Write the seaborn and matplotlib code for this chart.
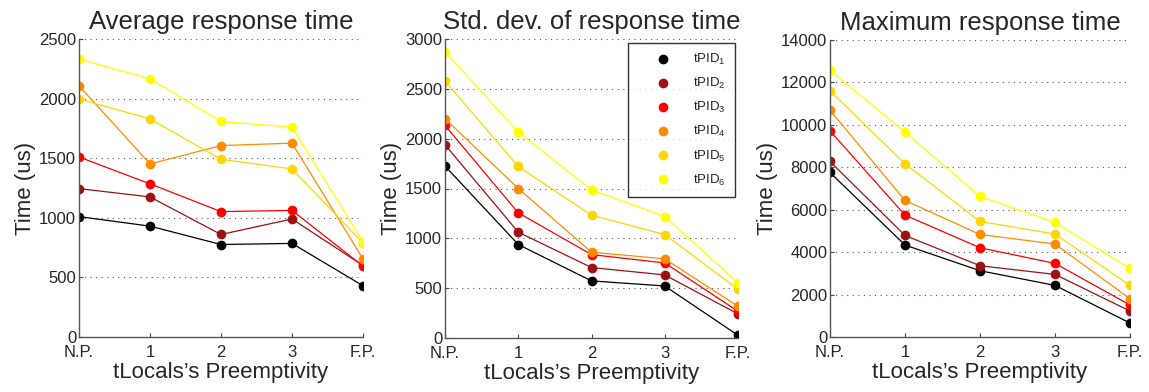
import numpy as np
import pandas as pd
import matplotlib
matplotlib.use("Agg")
import matplotlib.pyplot as plt
import seaborn as sns
from matplotlib.lines import Line2D
from matplotlib.legend_handler import HandlerLine2D

preempt = ["N.P.", "1", "2", "3", "F.P."]
series = ["tPID1", "tPID2", "tPID3", "tPID4", "tPID5", "tPID6"]
labels = [r"tPID$_1$", r"tPID$_2$", r"tPID$_3$", r"tPID$_4$", r"tPID$_5$", r"tPID$_6$"]
colors = ["#000000", "#9b1212", "#ff0000", "#ff8c00", "#ffd700", "#ffff00"]

avg_t1 = [1010, 930, 776, 785, 430]
avg_t2 = [1245, 1175, 860, 990, 600]
avg_t3 = [1510, 1285, 1052, 1062, 595]
avg_t4 = [2108, 1452, 1606, 1626, 656]
avg_t5 = [1996, 1830, 1491, 1410, 790]
avg_t6 = [2332, 2166, 1808, 1760, 800]

std_t1 = [1725, 938, 573, 522, 27]
std_t2 = [1939, 1062, 707, 633, 241]
std_t3 = [2133, 1256, 837, 753, 268]
std_t4 = [2200, 1500, 861, 794, 318]
std_t5 = [2579, 1721, 1232, 1038, 489]
std_t6 = [2873, 2066, 1487, 1219, 553]

max_t1 = [7755, 4333, 3124, 2433, 659]
max_t2 = [8273, 4788, 3359, 2951, 1224]
max_t3 = [9717, 5745, 4207, 3469, 1507]
max_t4 = [10690, 6436, 4835, 4380, 1805]
max_t5 = [11601, 8163, 5447, 4851, 2433]
max_t6 = [12574, 9654, 6625, 5400, 3234]

titles = ["Average response time", "Std. dev. of response time", "Maximum response time"]
panels = [
    [avg_t1, avg_t2, avg_t3, avg_t4, avg_t5, avg_t6],
    [std_t1, std_t2, std_t3, std_t4, std_t5, std_t6],
    [max_t1, max_t2, max_t3, max_t4, max_t5, max_t6],
]
yticks = [np.arange(0, 2501, 500), np.arange(0, 3001, 500), np.arange(0, 14001, 2000)]

sns.set_style("white")
plt.rcParams["font.family"] = ["Liberation Sans", "DejaVu Sans"]
plt.rcParams["mathtext.default"] = "regular"
plt.rcParams["mathtext.fontset"] = "custom"
plt.rcParams["mathtext.rm"] = "Liberation Sans"

fig = plt.figure(figsize=(11.49, 3.92), dpi=100)
W, H = 1149, 392
axes_px = [(79, 39, 363, 337), (445, 39, 738, 338), (830, 40, 1130, 337)]
axes = []
for (l, t, r, b) in axes_px:
    axes.append(fig.add_axes([l / W, 1 - b / H, (r - l) / W, (b - t) / H]))

pal = dict(zip(series, colors))
for i, ax in enumerate(axes):
    rows = []
    for s, vals in zip(series, panels[i]):
        for j, v in enumerate(vals):
            rows.append({"x": j, "series": s, "value": v})
    df = pd.DataFrame(rows)
    sns.lineplot(data=df, x="x", y="value", hue="series", palette=pal,
                 marker="o", markersize=7, markeredgewidth=0, linewidth=0.9,
                 legend=False, ax=ax)
    ax.set_xlim(0, 4)
    ax.set_ylim(yticks[i][0], yticks[i][-1])
    ax.set_xticks(range(5))
    ax.set_xticklabels(preempt)
    ax.set_yticks(yticks[i])
    ax.set_yticklabels([str(v) for v in yticks[i]])
    for v in yticks[i][1:]:
        ax.axhline(v, color="#555555", linestyle=(0, (1, 4)), linewidth=0.8, zorder=0)
    ax.set_title(titles[i], fontsize=18.5, pad=7)
    ax.set_xlabel("tLocals\u2019s Preemptivity", fontsize=16, labelpad=1)
    ax.set_ylabel("Time (us)", fontsize=16, labelpad=2)
    ax.tick_params(axis="x", labelsize=12, direction="in", length=3,
                   color="#444444", bottom=True, pad=6)
    ax.tick_params(axis="y", labelsize=12, direction="in", length=3,
                   color="#444444", left=True, pad=2)
    for side in ["top", "right"]:
        ax.spines[side].set_visible(False)
    for side in ["left", "bottom"]:
        ax.spines[side].set_color("#555555")
        ax.spines[side].set_linewidth(1.0)
    ax.set_facecolor("white")


class RightMarkerHandler(HandlerLine2D):
    def get_xdata(self, legend, xdescent, ydescent, width, height, fontsize):
        xdata = np.array([-xdescent, -xdescent + width])
        xdata_marker = np.array([-xdescent + 0.68 * width])
        return xdata, xdata_marker


handles = [Line2D([], [], marker="o", color=c, linestyle="none", markersize=7,
                  markeredgewidth=0) for c in colors]
leg = axes[1].legend(handles, labels, loc="upper right", bbox_to_anchor=(0.99, 0.987),
                     borderaxespad=0.0,
                     fontsize=9.5, frameon=True, fancybox=False, edgecolor="black",
                     borderpad=0.7, labelspacing=0.68, handletextpad=0.4,
                     markerfirst=True, handlelength=3.8,
                     handler_map={Line2D: RightMarkerHandler(numpoints=1)})
leg.get_frame().set_linewidth(1.0)

fig.savefig("out.png", dpi=100)
